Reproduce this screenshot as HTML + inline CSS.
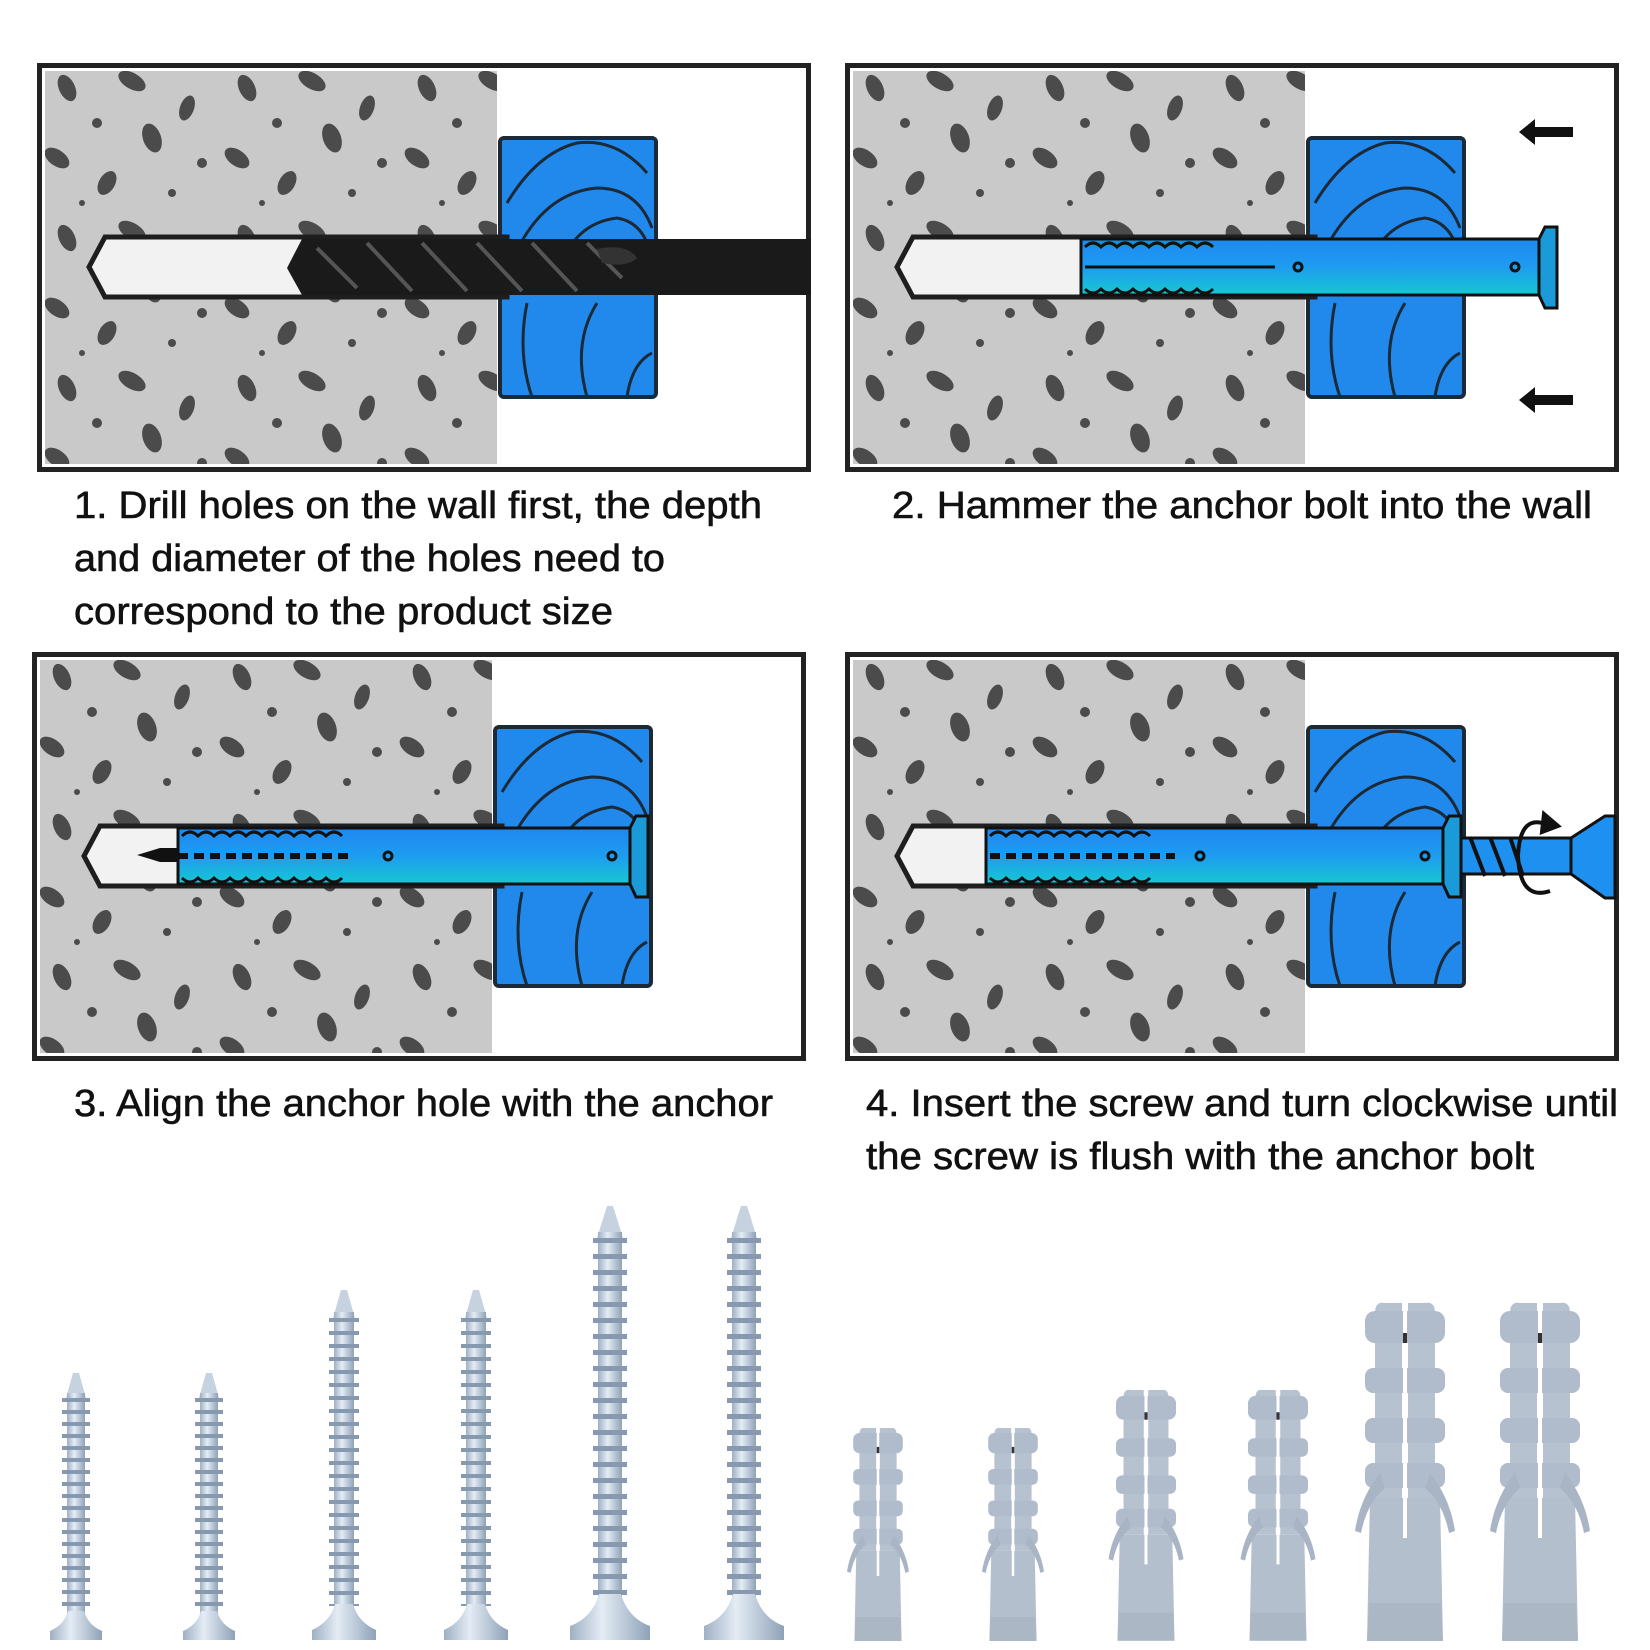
<!DOCTYPE html>
<html><head><meta charset="utf-8">
<style>html,body{margin:0;padding:0;background:#fff}svg{display:block}</style>
</head><body>
<svg width="1650" height="1650" viewBox="0 0 1650 1650" xmlns="http://www.w3.org/2000/svg" font-family="Liberation Sans, sans-serif">
<defs>
<pattern id="dots" patternUnits="userSpaceOnUse" width="180" height="150">
<rect width="180" height="150" fill="#c9c9c9"/>
<g fill="#4b4b4b">
<ellipse cx="30" cy="25" rx="8" ry="14" transform="rotate(-25 30 25)"/>
<ellipse cx="95" cy="18" rx="15" ry="8" transform="rotate(30 95 18)"/>
<ellipse cx="150" cy="45" rx="7" ry="13" transform="rotate(20 150 45)"/>
<circle cx="60" cy="60" r="5"/>
<ellipse cx="115" cy="75" rx="9" ry="15" transform="rotate(-20 115 75)"/>
<ellipse cx="20" cy="95" rx="14" ry="8" transform="rotate(35 20 95)"/>
<circle cx="165" cy="100" r="5"/>
<ellipse cx="70" cy="120" rx="8" ry="13" transform="rotate(30 70 120)"/>
<circle cx="135" cy="130" r="4"/>
<circle cx="45" cy="140" r="3"/>
</g>
</pattern>
<linearGradient id="bolt" x1="0" y1="0" x2="0" y2="1">
<stop offset="0" stop-color="#1e88f0"/><stop offset="0.5" stop-color="#1e9cf0"/><stop offset="1" stop-color="#16c8d0"/>
</linearGradient>
<linearGradient id="steel" x1="0" y1="0" x2="1" y2="0">
<stop offset="0" stop-color="#9fb0c4"/><stop offset="0.4" stop-color="#e4ecf5"/><stop offset="1" stop-color="#8fa2b8"/>
</linearGradient>
<g id="wood">
<rect x="463" y="75" width="156" height="259" rx="4" fill="#2289ec" stroke="#1b2a36" stroke-width="4"/>
<g fill="none" stroke="#1b2a36" stroke-width="3">
<path d="M470 140 Q500 90 540 80 Q580 75 610 110"/>
<path d="M470 210 Q500 130 560 125 Q600 125 615 165"/>
<path d="M525 200 Q540 160 580 155 Q610 160 615 200"/>
<path d="M490 240 Q480 290 495 334"/>
<path d="M560 240 Q535 280 550 334"/>
<path d="M615 290 Q595 300 590 334"/>
</g>
</g>
<g id="base">
<rect x="2.5" y="2.5" width="769" height="404" fill="#fff" stroke="#222" stroke-width="5"/>
<rect x="8" y="8" width="452" height="393" fill="url(#dots)"/>
<use href="#wood"/>
<path d="M52 204 L68 174 L470 174 L470 234 L68 234 Z" fill="#f2f2f2" stroke="#1e1e1e" stroke-width="5"/>
</g>
<g id="rotor" fill="none" stroke="#111" stroke-width="4">
<path d="M20 -30 Q-10 -45 -12 0 Q-10 45 20 35"/>
<path d="M14 -42 L28 -30 L12 -24 Z" fill="#111"/>
</g>
<g id="plug">
<path d="M-35 195 L35 195 L38 338 L-38 338 Z" fill="#b3bfcd"/>
<path d="M-30 10 Q-30 -2 -20 0 L-3 0 L-3 195 L-30 195 Z" fill="#b7c2d0"/>
<path d="M30 10 Q30 -2 20 0 L3 0 L3 195 L30 195 Z" fill="#b7c2d0"/>
<g fill="#b0bccb">
<rect x="-40" y="8" width="80" height="32" rx="10"/>
<rect x="-40" y="65" width="80" height="25" rx="8"/>
<rect x="-40" y="115" width="80" height="25" rx="8"/>
<rect x="-40" y="160" width="80" height="25" rx="8"/>
</g>
<path d="M-25 170 Q-45 195 -50 228 L-44 230 Q-38 200 -20 185 Z" fill="#a9b5c4"/>
<path d="M25 170 Q45 195 50 228 L44 230 Q38 200 20 185 Z" fill="#a9b5c4"/>
<rect x="-2" y="0" width="4" height="235" fill="#fff"/>
<rect x="-2" y="30" width="4" height="10" fill="#333"/>
<path d="M-36 300 L36 300 L38 338 L-38 338 Z" fill="#a6b3c2" opacity=".6"/>
</g>
</defs>

<!-- Panel 1 -->
<g transform="translate(37,63)">
<use href="#base"/>
<path d="M250 205 L265 176 L774 176 L774 232 L265 232 Z" fill="#1a1a1a"/>
<g stroke="#555" stroke-width="4" fill="none">
<path d="M280 185 L320 225 M330 180 L375 228 M385 180 L430 228 M440 180 L485 228 M495 180 L540 228 M550 180 L585 215"/>
</g>
<path d="M560 186 Q590 180 600 195 Q590 205 565 200" fill="#333"/>
</g>
<!-- Panel 2 -->
<g transform="translate(845,63)">
<use href="#base"/>
<rect x="236" y="176" width="460" height="56" fill="url(#bolt)" stroke="#111" stroke-width="3"/>
<path d="M694 176 L700 164 L712 164 L712 245 L700 245 L694 232 Z" fill="#1a9ad8" stroke="#111" stroke-width="3"/>
<g fill="none" stroke="#111" stroke-width="3">
<path d="M240 184 q8 -8 16 0 q8 -8 16 0 q8 -8 16 0 q8 -8 16 0 q8 -8 16 0 q8 -8 16 0 q8 -8 16 0 q8 -8 16 0"/>
<path d="M240 226 q8 8 16 0 q8 8 16 0 q8 8 16 0 q8 8 16 0 q8 8 16 0 q8 8 16 0 q8 8 16 0 q8 8 16 0"/>
<path d="M240 204 L430 204"/>
<circle cx="453" cy="204" r="4"/><circle cx="670" cy="204" r="4"/>
</g>
<g fill="#111">
<path d="M728 64 L690 64 L690 56 L674 69 L690 82 L690 74 L728 74 Z"/>
<path d="M728 332 L690 332 L690 324 L674 337 L690 350 L690 342 L728 342 Z"/>
</g>
</g>
<!-- Panel 3 -->
<g transform="translate(32,652)">
<use href="#base"/>
<path d="M105 203 L128 196 L150 196 L150 210 L128 210 Z" fill="#111"/>
<rect x="146" y="176" width="454" height="56" fill="url(#bolt)" stroke="#111" stroke-width="3"/>
<path d="M598 176 L604 164 L616 164 L616 245 L604 245 L598 232 Z" fill="#1a9ad8" stroke="#111" stroke-width="3"/>
<g fill="none" stroke="#111" stroke-width="3">
<path d="M150 184 q8 -8 16 0 q8 -8 16 0 q8 -8 16 0 q8 -8 16 0 q8 -8 16 0 q8 -8 16 0 q8 -8 16 0 q8 -8 16 0 q8 -8 16 0 q8 -8 16 0"/>
<path d="M150 226 q8 8 16 0 q8 8 16 0 q8 8 16 0 q8 8 16 0 q8 8 16 0 q8 8 16 0 q8 8 16 0 q8 8 16 0 q8 8 16 0 q8 8 16 0"/>
</g>
<path d="M130 204 L320 204" stroke="#111" stroke-width="6" stroke-dasharray="10 6"/>
<circle cx="356" cy="204" r="4" fill="none" stroke="#111" stroke-width="3"/>
<circle cx="580" cy="204" r="4" fill="none" stroke="#111" stroke-width="3"/>
</g>
<!-- Panel 4 -->
<g transform="translate(845,652)">
<use href="#base"/>
<rect x="141" y="176" width="459" height="56" fill="url(#bolt)" stroke="#111" stroke-width="3"/>
<path d="M598 176 L604 164 L616 164 L616 245 L604 245 L598 232 Z" fill="#1a9ad8" stroke="#111" stroke-width="3"/>
<g fill="none" stroke="#111" stroke-width="3">
<path d="M145 184 q8 -8 16 0 q8 -8 16 0 q8 -8 16 0 q8 -8 16 0 q8 -8 16 0 q8 -8 16 0 q8 -8 16 0 q8 -8 16 0 q8 -8 16 0 q8 -8 16 0"/>
<path d="M145 226 q8 8 16 0 q8 8 16 0 q8 8 16 0 q8 8 16 0 q8 8 16 0 q8 8 16 0 q8 8 16 0 q8 8 16 0 q8 8 16 0 q8 8 16 0"/>
</g>
<path d="M145 204 L330 204" stroke="#111" stroke-width="6" stroke-dasharray="10 6"/>
<circle cx="355" cy="204" r="4" fill="none" stroke="#111" stroke-width="3"/>
<circle cx="580" cy="204" r="4" fill="none" stroke="#111" stroke-width="3"/>
<rect x="616" y="186" width="110" height="36" fill="#1e90f0" stroke="#111" stroke-width="3"/>
<path d="M625 185 L640 224 M645 185 L660 224 M665 185 L678 224" stroke="#111" stroke-width="4"/>
<path d="M726 186 L760 164 L770 164 L770 246 L760 246 L726 222 Z" fill="#1e90f0" stroke="#111" stroke-width="3"/>
<use href="#rotor" transform="translate(685,204)"/>
</g>

<!-- Text -->
<g font-size="38" fill="#111" stroke="#111" stroke-width="0.6">
<text x="74" y="518" textLength="688" lengthAdjust="spacingAndGlyphs">1. Drill holes on the wall first, the depth</text>
<text x="74" y="571" textLength="591" lengthAdjust="spacingAndGlyphs">and diameter of the holes need to</text>
<text x="74" y="624" textLength="539" lengthAdjust="spacingAndGlyphs">correspond to the product size</text>
<text x="892" y="518" textLength="700" lengthAdjust="spacingAndGlyphs">2. Hammer the anchor bolt into the wall</text>
<text x="74" y="1116" textLength="699" lengthAdjust="spacingAndGlyphs">3. Align the anchor hole with the anchor</text>
<text x="866" y="1116" textLength="752" lengthAdjust="spacingAndGlyphs">4. Insert the screw and turn clockwise until</text>
<text x="866" y="1169" textLength="668" lengthAdjust="spacingAndGlyphs">the screw is flush with the anchor bolt</text>
</g>

<!-- Screws -->
<g id="scrA" transform="translate(76,1373)">
<path d="M-3 0 L3 0 L10 25 L-10 25 Z" fill="#c6d2e0"/>
<rect x="-9" y="20" width="18" height="222" fill="url(#steel)"/>
<line x1="0" y1="25" x2="0" y2="238" stroke="#8799ae" stroke-width="28" stroke-dasharray="4 8"/>
<path d="M-8 238 L8 238 Q12 252 26 258 L26 267 L-26 267 L-26 258 Q-12 252 -8 238 Z" fill="url(#steel)"/>
</g>
<use href="#scrA" transform="translate(133,0)"/>
<g id="scrB" transform="translate(344,1290)">
<path d="M-3 0 L3 0 L11 28 L-11 28 Z" fill="#c6d2e0"/>
<rect x="-10" y="22" width="20" height="300" fill="url(#steel)"/>
<line x1="0" y1="28" x2="0" y2="316" stroke="#8799ae" stroke-width="30" stroke-dasharray="4 9"/>
<path d="M-9 314 L9 314 Q14 332 32 340 L32 350 L-32 350 L-32 340 Q-14 332 -9 314 Z" fill="url(#steel)"/>
</g>
<use href="#scrB" transform="translate(132,0)"/>
<g id="scrC" transform="translate(610,1206)">
<path d="M-3 0 L3 0 L13 32 L-13 32 Z" fill="#c6d2e0"/>
<rect x="-12" y="26" width="24" height="370" fill="url(#steel)"/>
<line x1="0" y1="32" x2="0" y2="390" stroke="#8799ae" stroke-width="34" stroke-dasharray="5 11"/>
<path d="M-11 388 L11 388 Q18 412 40 420 L40 434 L-40 434 Q-40 420 -40 420 Q-18 412 -11 388 Z" fill="url(#steel)"/>
</g>
<use href="#scrC" transform="translate(134,0)"/>

<!-- Plugs -->
<use href="#plug" transform="translate(878,1428) scale(0.62,0.63)"/>
<use href="#plug" transform="translate(1013,1428) scale(0.62,0.63)"/>
<use href="#plug" transform="translate(1146,1390) scale(0.75,0.742)"/>
<use href="#plug" transform="translate(1278,1390) scale(0.75,0.742)"/>
<use href="#plug" transform="translate(1405,1303)"/>
<use href="#plug" transform="translate(1540,1303)"/>
</svg>
</body></html>
